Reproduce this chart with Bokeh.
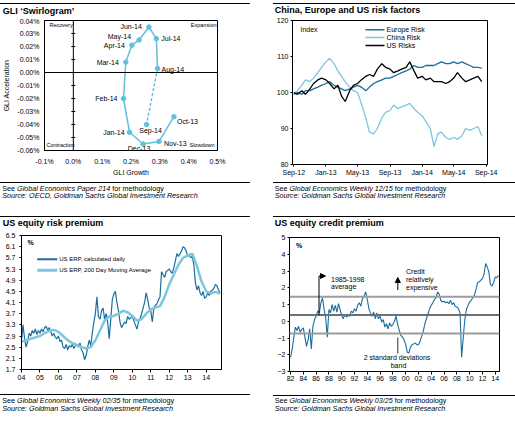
import numpy as np
import pandas as pd
from bokeh.plotting import figure
from bokeh.models import (ColumnDataSource, Label, LabelSet, Span, Arrow, NormalHead,
                          FixedTicker, PrintfTickFormatter, Range1d, DatetimeTickFormatter, Div)
from bokeh.layouts import column, row
from bokeh.embed import file_html
from bokeh.resources import INLINE
from bokeh.core.properties import value

# ---------------------------------------------------------------- data
swirl_months = ["Oct-13", "Nov-13", "Dec-13", "Jan-14", "Feb-14", "Mar-14",
                "Apr-14", "May-14", "Jun-14", "Jul-14", "Aug-14", "Sep-14"]
gli_growth = [0.349, 0.297, 0.242, 0.195, 0.174, 0.182, 0.203, 0.228, 0.262, 0.288, 0.292, 0.254]
gli_accel = [-0.034, -0.053, -0.055, -0.046, -0.020, 0.008, 0.021, 0.025, 0.035, 0.026, 0.003, -0.040]
swirl_x_ticks = [-0.1, 0.0, 0.1, 0.2, 0.3, 0.4, 0.5]
swirl_y_ticks = [-0.06, -0.05, -0.04, -0.03, -0.02, -0.01, 0.0, 0.01, 0.02, 0.03, 0.04]
quadrant_names = ["Recovery", "Expansion", "Contraction", "Slowdown"]

risk_start = "2012-09-01"
europe_risk = [99.5, 100.0, 99.5, 100.5, 100.5, 101.0, 101.5, 102.0, 102.5, 103.0,
               102.0, 101.5, 101.0, 100.5, 101.0, 101.5, 102.0, 101.5, 100.5, 101.5,
               102.5, 103.0, 103.5, 104.0, 104.0, 104.5, 105.0, 105.5, 106.0, 106.5,
               107.5, 107.0, 107.0, 107.5, 107.5, 107.5, 108.0, 108.5, 108.0, 108.0,
               108.5, 108.0, 108.5, 108.0, 107.5, 107.0, 107.0, 106.8]
china_risk = [99.5, 100.5, 102.0, 103.5, 103.0, 104.0, 105.5, 107.0, 108.5, 109.5,
              108.0, 106.0, 104.5, 103.0, 101.5, 100.5, 100.0, 97.0, 93.0, 89.0,
              88.5, 90.0, 93.0, 94.5, 95.0, 96.5, 95.5, 96.0, 96.5, 97.0,
              95.5, 94.5, 93.5, 92.0, 90.0, 85.0, 88.5, 89.0, 87.5, 87.0,
              87.5, 87.0, 88.0, 90.0, 89.5, 90.0, 90.5, 88.0]
us_risks = [100.0, 99.5, 100.5, 99.5, 101.0, 102.5, 103.5, 104.0, 103.5, 102.5,
            101.0, 102.0, 99.0, 97.5, 100.5, 102.0, 102.5, 103.5, 104.5, 105.0,
            104.5, 106.5, 108.0, 107.0, 106.5, 105.5, 106.0, 106.5, 107.0, 108.5,
            106.0, 104.0, 104.5, 103.5, 104.0, 103.0, 103.0, 103.0, 102.5, 103.0,
            104.0, 105.5, 104.0, 103.0, 103.5, 104.0, 104.5, 103.0]
risk_names = ["Europe Risk", "China Risk", "US Risks"]
risk_x_ticks = ["2012-09-01", "2013-01-01", "2013-05-01", "2013-09-01",
                "2014-01-01", "2014-05-01", "2014-09-01"]
risk_y_ticks = [80, 90, 100, 110, 120]

# US equity risk premium, monthly from Jan 2004
erp_daily = [2.75, 3.3, 2.8, 2.5, 2.7, 3.0, 2.9, 3.1, 3.0, 3.15, 2.95, 3.1,
             3.0, 3.15, 3.05, 3.2, 3.25, 3.1, 3.2, 3.05, 2.9, 3.0, 2.85, 2.8,
             2.9, 2.7, 2.75, 2.5, 2.45, 2.6, 2.4, 2.55, 2.5, 2.6, 2.45, 2.55,
             2.6, 2.5, 2.65, 2.4, 2.3, 2.05, 2.2, 2.5, 2.75, 2.55, 3.0, 3.4,
             3.7, 4.3, 3.6, 3.5, 3.8, 3.9, 3.5, 3.7, 3.4, 2.8, 3.5, 4.2,
             4.4, 4.5, 4.1, 3.8, 3.4, 3.2, 3.3, 3.4, 3.35, 3.6, 3.5, 3.55,
             3.6, 3.45, 3.3, 3.15, 3.4, 3.5, 3.7, 3.9, 4.1, 4.45, 4.2, 3.9,
             3.8, 3.4, 3.9, 4.0, 4.05, 4.2, 4.3, 5.2, 5.1, 5.0, 5.2, 5.25,
             5.3, 5.2, 5.15, 5.35, 5.6, 5.85, 5.75, 5.85, 5.95, 6.1, 6.05, 5.95,
             5.75, 5.8, 5.7, 5.75, 5.45, 4.8, 4.55, 4.7, 4.45, 4.35, 4.5, 4.25,
             4.3, 4.45, 4.35, 4.5, 4.55, 4.6, 4.75, 4.7, 4.55, 4.45]
# 200 day moving average, quarterly from Q1 2004
erp_ma200 = [2.7, 2.75, 2.8, 2.85, 2.9, 3.0, 3.08, 3.12, 3.05, 2.9, 2.75, 2.65,
             2.58, 2.5, 2.45, 2.5, 2.75, 3.1, 3.45, 3.6, 3.62, 3.7, 3.8, 3.75,
             3.62, 3.45, 3.5, 3.7, 3.85, 3.92, 3.97, 4.3, 4.75, 5.1, 5.45, 5.7,
             5.78, 5.85, 5.4, 4.85, 4.5, 4.43, 4.48, 4.42]
erp_names = ["US ERP, calculated daily", "US ERP, 200 Day Moving Average"]
erp_x_ticks = list(range(2004, 2015))
erp_y_ticks = [1.7, 2.1, 2.5, 2.9, 3.3, 3.7, 4.1, 4.5, 4.9, 5.3, 5.7, 6.1, 6.5]

# US equity credit premium, quarterly from Q1 1982
credit_premium = [-2.15, -1.7, -1.0, -0.35, -0.55, -0.3, -0.65, -0.5, -0.4, -0.95, -1.5, -1.1,
                  -0.45, -1.65, -0.3, 0.1, 0.3, 0.6, 0.5, 1.1, 1.4, 0.7, 0.2, -0.95,
                  0.7, 0.5, 1.0, 0.6, 0.95, 0.55, 1.05, 0.7, 0.35, 0.15, 0.4, 0.25,
                  0.35, 0.3, 0.6, 0.5, 0.75, 0.6, 0.95, 1.1, 0.9, 1.35, 1.5, 1.75,
                  1.3, 0.75, 0.5, 0.3, 0.55, 0.15, 0.5, 0.15, 0.3, -0.05, 0.1, -0.35,
                  -0.15, -0.45, -0.1, -0.3, -0.2, 0.0, 0.3, -0.2, -0.55, -0.85, -0.95, -1.1,
                  -1.4, -1.85, -1.9, -1.55, -1.4, -1.35, -1.3, -1.4, -1.4, -1.2, -0.9, -0.6,
                  -0.15, 0.15, 0.45, 0.75, 0.95, 1.1, 1.3, 1.4, 1.75, 1.6, 1.25, 1.15,
                  1.2, 1.1, 1.15, 1.05, 1.25, 1.0, 1.1, 0.9, 0.85, 0.75, 0.5, -2.15,
                  -1.0, 0.1, 0.7, 0.95, 1.15, 1.25, 1.4, 1.55, 1.9, 2.3, 2.35, 2.45,
                  2.55, 2.8, 3.45, 3.25, 2.95, 2.2, 2.1, 2.3, 2.65, 2.6, 2.75]
credit_bands = [1.47, 0.37, -0.73]   # +2sd, 1985-1998 average, -2sd
credit_x_ticks = list(range(1982, 2015, 2))
credit_y_ticks = [-3, -2, -1, 0, 1, 2, 3, 4, 5]

# ---------------------------------------------------------------- styles
FONT = "Liberation Sans"
SWIRL = "#62c0da"
DARK = "#1b6d9e"
LIGHT = "#7cc7de"
CAP = 7.2


class Geo:
    """Maps reference-picture pixel positions onto a panel's data space."""
    def __init__(self, origin, size, frame, xr, yr):
        self.ox, self.oy = origin
        self.w, self.h = size
        self.fl, self.ft, self.fr, self.fb = frame
        self.x0, self.x1 = xr
        self.y0, self.y1 = yr

    def x(self, px):
        return self.x0 + (px - self.fl) / (self.fr - self.fl) * (self.x1 - self.x0)

    def y(self, py):
        return self.y1 - (py - self.ft) / (self.fb - self.ft) * (self.y1 - self.y0)


def make_fig(g, **kw):
    p = figure(width=g.w, height=g.h, x_range=Range1d(g.x0, g.x1), y_range=Range1d(g.y0, g.y1),
               output_backend="svg", toolbar_location=None, **kw)
    p.min_border_left = g.fl - g.ox
    p.min_border_right = g.ox + g.w - g.fr
    p.min_border_top = g.ft - g.oy
    p.min_border_bottom = g.oy + g.h - g.fb
    p.outline_line_color = "black"
    p.outline_line_width = 1
    p.xgrid.visible = False
    p.ygrid.visible = False
    p.background_fill_color = "white"
    p.border_fill_color = "white"
    for ax in p.axis:
        ax.axis_line_color = "black"
        ax.major_tick_line_color = "black"
        ax.minor_tick_line_color = None
        ax.major_label_text_font = FONT
        ax.major_label_text_font_size = "7px"
        ax.major_label_text_color = "black"
        ax.major_tick_in = 0
        ax.axis_label_text_font = FONT
        ax.axis_label_text_font_size = "7px"
        ax.axis_label_text_font_style = "normal"
        ax.axis_label_text_color = "black"
    return p


def txt(p, g, px, py, text, size=7, align="left", style="normal", baseline="middle"):
    p.add_layout(Label(x=g.x(px), y=g.y(py), text=text, text_font=FONT,
                       text_font_size=f"{size}px", text_font_style=style,
                       text_align=align, text_baseline=baseline, text_color="black"))


def legend_key(p, g, xa, xb, py, label, color, width, size):
    p.line([g.x(xa), g.x(xb)], [g.y(py), g.y(py)], line_color=color, line_width=width)
    txt(p, g, xb + 2, py, label, size=size)


BASE = f"position:absolute;white-space:nowrap;font-family:'{FONT}';color:#000;"


def header(w, h, rule_x0, rule_x1, rule_top, title_x, title_top, title):
    html = (f'<div style="position:relative;width:{w}px;height:{h}px;">'
            f'<div style="position:absolute;left:{rule_x0}px;width:{rule_x1 - rule_x0}px;top:{rule_top}px;'
            f'height:1.5px;background:#000;"></div>'
            f'<div style="{BASE}left:{title_x}px;top:{title_top}px;font-size:9px;line-height:10px;'
            f'font-weight:bold;">{title}</div></div>')
    return Div(text=html, width=w, height=h, margin=(0, 0, 0, 0))


def footer(w, h, rule_x0, rule_x1, rule_top, x, top1, top2, see_it, source):
    html = (f'<div style="position:relative;width:{w}px;height:{h}px;">'
            f'<div style="position:absolute;left:{rule_x0}px;width:{rule_x1 - rule_x0}px;top:{rule_top}px;'
            f'height:1.3px;background:#000;"></div>'
            f'<div style="{BASE}left:{x}px;top:{top1}px;font-size:{CAP}px;line-height:8px;">'
            f'See <i>{see_it}</i> for methodology</div>'
            f'<div style="{BASE}left:{x}px;top:{top2}px;font-size:{CAP}px;line-height:8px;font-style:italic;">'
            f'{source}</div></div>')
    return Div(text=html, width=w, height=h, margin=(0, 0, 0, 0))


# ---------------------------------------------------------------- panel 1: swirlogram
g1 = Geo((0, 17), (256, 161), (42, 20, 217, 153), (-0.1, 0.5), (-0.06, 0.04))
p1 = make_fig(g1)
p1.xaxis.ticker = FixedTicker(ticks=swirl_x_ticks)
p1.yaxis.ticker = FixedTicker(ticks=swirl_y_ticks)
p1.xaxis.formatter = PrintfTickFormatter(format="%.1f%%")
p1.yaxis.formatter = PrintfTickFormatter(format="%.2f%%")
p1.xaxis.major_tick_out = 0
p1.yaxis.major_tick_out = 0
p1.xaxis.major_label_standoff = 7
p1.yaxis.major_label_standoff = 5
p1.xaxis.axis_label = "GLI Growth"
p1.yaxis.axis_label = "GLI Acceleration"
p1.xaxis.axis_label_standoff = 1
p1.yaxis.axis_label_standoff = 4
p1.add_layout(Span(location=0, dimension="height", line_color="black", line_width=1))
p1.add_layout(Span(location=0, dimension="width", line_color="black", line_width=1))
p1.scatter([0] * len(swirl_y_ticks), swirl_y_ticks, marker="dash", size=4, line_color="black")
p1.line(gli_growth[:-1], gli_accel[:-1], line_color=SWIRL, line_width=1.5)
p1.line(gli_growth[-2:], gli_accel[-2:], line_color=SWIRL, line_width=1.5, line_dash="3 2")
p1.scatter(gli_growth, gli_accel, size=4.5, fill_color=SWIRL, line_color=SWIRL)
lab_dx = [3, 5, -4, -5, -6, -7, -7, -8, -7, 5, 4, 4]
lab_dy = [-5, -2, -4, 0, 0, 0, -0.5, 4, 0.5, 0, -0.5, -6]
lab_al = ["left", "left", "center", "right", "right", "right", "right", "right", "right",
          "left", "left", "center"]
src1 = ColumnDataSource(dict(x=gli_growth, y=gli_accel, t=swirl_months, dx=lab_dx, dy=lab_dy, al=lab_al))
p1.add_layout(LabelSet(x="x", y="y", text="t", source=src1, x_offset="dx", y_offset="dy",
                       text_align="al", text_baseline="middle", text_font=value(FONT),
                       text_font_size="7px", text_color="black"))
txt(p1, g1, 47, 24.7, quadrant_names[0], size=5.5)
txt(p1, g1, 216, 24.7, quadrant_names[1], size=5.5, align="right")
txt(p1, g1, 44, 147.7, quadrant_names[2], size=5.5)
txt(p1, g1, 214, 147.7, quadrant_names[3], size=5.5, align="right")
h1 = header(256, 17, 0, 250, 2.6, 2.7, 5.6, "GLI \u2018Swirlogram\u2019")
f1 = footer(256, 33, 0, 250, 4, 2.3, 6.8, 14.4, "Global Economics Paper 214",
            "Source: OECD, Goldman Sachs Global Investment Research")

# ---------------------------------------------------------------- panel 2: risk factors
t0 = pd.Timestamp("2012-08-27").value / 1e6
t1 = pd.Timestamp("2014-09-06").value / 1e6
g2 = Geo((256, 17), (259, 161), (292, 20, 487, 166), (t0, t1), (80, 120))
p2 = make_fig(g2, x_axis_type="datetime")
p2.xaxis.ticker = FixedTicker(ticks=[pd.Timestamp(d).value / 1e6 for d in risk_x_ticks])
fmt = "%b-%y"
p2.xaxis.formatter = DatetimeTickFormatter(milliseconds=fmt, seconds=fmt, minsec=fmt, minutes=fmt,
                                           hourmin=fmt, hours=fmt, days=fmt, months=fmt, years=fmt)
p2.yaxis.ticker = FixedTicker(ticks=risk_y_ticks)
p2.xaxis.major_tick_out = 2
p2.yaxis.major_tick_out = 2
p2.xaxis.major_label_standoff = 2
p2.yaxis.major_label_standoff = 2
risk_dates = pd.date_range(risk_start, periods=len(europe_risk), freq="SMS")
p2.line(risk_dates, china_risk, line_color=LIGHT, line_width=1.3)
p2.line(risk_dates, europe_risk, line_color=DARK, line_width=1.3)
p2.line(risk_dates, us_risks, line_color="black", line_width=1.3)
for yy, name, col in zip([29.3, 37.3, 45.3], risk_names, [DARK, LIGHT, "black"]):
    legend_key(p2, g2, 365, 384, yy, name, col, 1.5, 7)
txt(p2, g2, 300, 29.3, "Index")
h2 = header(259, 17, 17, 259, 2.6, 18.7, 5.2, "China, Europe and US risk factors")
f2 = footer(259, 33, 17, 259, 3.5, 18.7, 6.6, 14.3, "Global Economics Weekly 12/15",
            "Source: Goldman Sachs Global Investment Research")

# ---------------------------------------------------------------- panel 3: equity risk premium
g3 = Geo((0, 232), (256, 158), (21, 235, 221, 369), (2004.0, 2014.83), (1.7, 6.5))
p3 = make_fig(g3)
p3.xaxis.ticker = FixedTicker(ticks=erp_x_ticks)
p3.xaxis.major_label_overrides = {y: f"{y % 100:02d}" for y in erp_x_ticks}
p3.yaxis.ticker = FixedTicker(ticks=erp_y_ticks)
p3.yaxis.formatter = PrintfTickFormatter(format="%.1f")
p3.xaxis.major_tick_out = 3
p3.yaxis.major_tick_out = 2
p3.xaxis.major_label_standoff = 2
p3.yaxis.major_label_standoff = 4
erp_t = 2004 + np.arange(len(erp_daily)) / 12
ma_t = 2004 + np.arange(len(erp_ma200)) / 4
p3.line(erp_t, erp_daily, line_color=DARK, line_width=1.2)
p3.line(ma_t, erp_ma200, line_color=LIGHT, line_width=2.5)
legend_key(p3, g3, 36.7, 56.7, 258.7, erp_names[0], DARK, 2, 6)
legend_key(p3, g3, 36.7, 56.7, 269.7, erp_names[1], LIGHT, 3, 6)
txt(p3, g3, 27, 241.5, "%", style="bold")
h3 = header(256, 21, 0, 250, 4.9, 2.7, 6.9, "US equity risk premium")
f3 = footer(256, 35, 0, 250, 4.2, 2.3, 6.6, 14.6, "Global Economics Weekly 02/35",
            "Source: Goldman Sachs Global Investment Research")

# ---------------------------------------------------------------- panel 4: credit premium
g4 = Geo((256, 232), (259, 158), (289, 237, 499, 371), (1981.84, 2014.67), (-3, 5))
p4 = make_fig(g4)
p4.xaxis.ticker = FixedTicker(ticks=credit_x_ticks)
p4.xaxis.major_label_overrides = {y: f"{y % 100:02d}" for y in credit_x_ticks}
p4.yaxis.ticker = FixedTicker(ticks=credit_y_ticks)
p4.xaxis.major_tick_out = 3
p4.yaxis.major_tick_out = 2
p4.xaxis.major_label_standoff = 1
p4.yaxis.major_label_standoff = 2
for lvl, col in zip(credit_bands, ["#9c9c9c", "#6f6f6f", "#9c9c9c"]):
    p4.add_layout(Span(location=lvl, dimension="width", line_color=col, line_width=2))
credit_t = 1982 + np.arange(len(credit_premium)) / 4
p4.line(credit_t, credit_premium, line_color=DARK, line_width=1.1)
head = dict(size=5, fill_color="black", line_color="black")
p4.add_layout(Arrow(x_start=g4.x(318.5), y_start=credit_bands[1], x_end=g4.x(318.5), y_end=g4.y(275.5),
                    end=None, line_color="black", line_width=1))
p4.add_layout(Arrow(x_start=g4.x(318.5), y_start=g4.y(275.5), x_end=g4.x(325), y_end=g4.y(275.5),
                    end=NormalHead(**head), line_color="black", line_width=1))
txt(p4, g4, 330.5, 278.5, "1985-1998")
txt(p4, g4, 330.5, 286, "average")
p4.add_layout(Arrow(x_start=g4.x(397.3), y_start=g4.y(289.5), x_end=g4.x(397.3), y_end=g4.y(277),
                    end=NormalHead(**head), line_color="black", line_width=1))
txt(p4, g4, 405.5, 270.7, "Credit")
txt(p4, g4, 405.5, 278.7, "relatively")
txt(p4, g4, 405.5, 286.7, "expensive")
p4.add_layout(Arrow(x_start=g4.x(397.3), y_start=g4.y(337), x_end=g4.x(397.3), y_end=g4.y(353),
                    end=None, line_color="#333333", line_width=1))
txt(p4, g4, 396.5, 357, "2 standard deviations", align="center")
txt(p4, g4, 398, 364.7, "band", align="center")
txt(p4, g4, 295.5, 244.5, "%", style="bold")
h4 = header(259, 21, 17, 259, 4.9, 18.7, 6.6, "US equity credit premium")
f4 = footer(259, 35, 17, 259, 4.5, 18.7, 6.6, 14.6, "Global Economics Weekly 03/25",
            "Source: Goldman Sachs Global Investment Research")

layout = column(row(column(h1, p1, f1), column(h2, p2, f2)),
                row(column(h3, p3, f3), column(h4, p4, f4)))
open("out.html", "w").write(file_html(layout, INLINE))
